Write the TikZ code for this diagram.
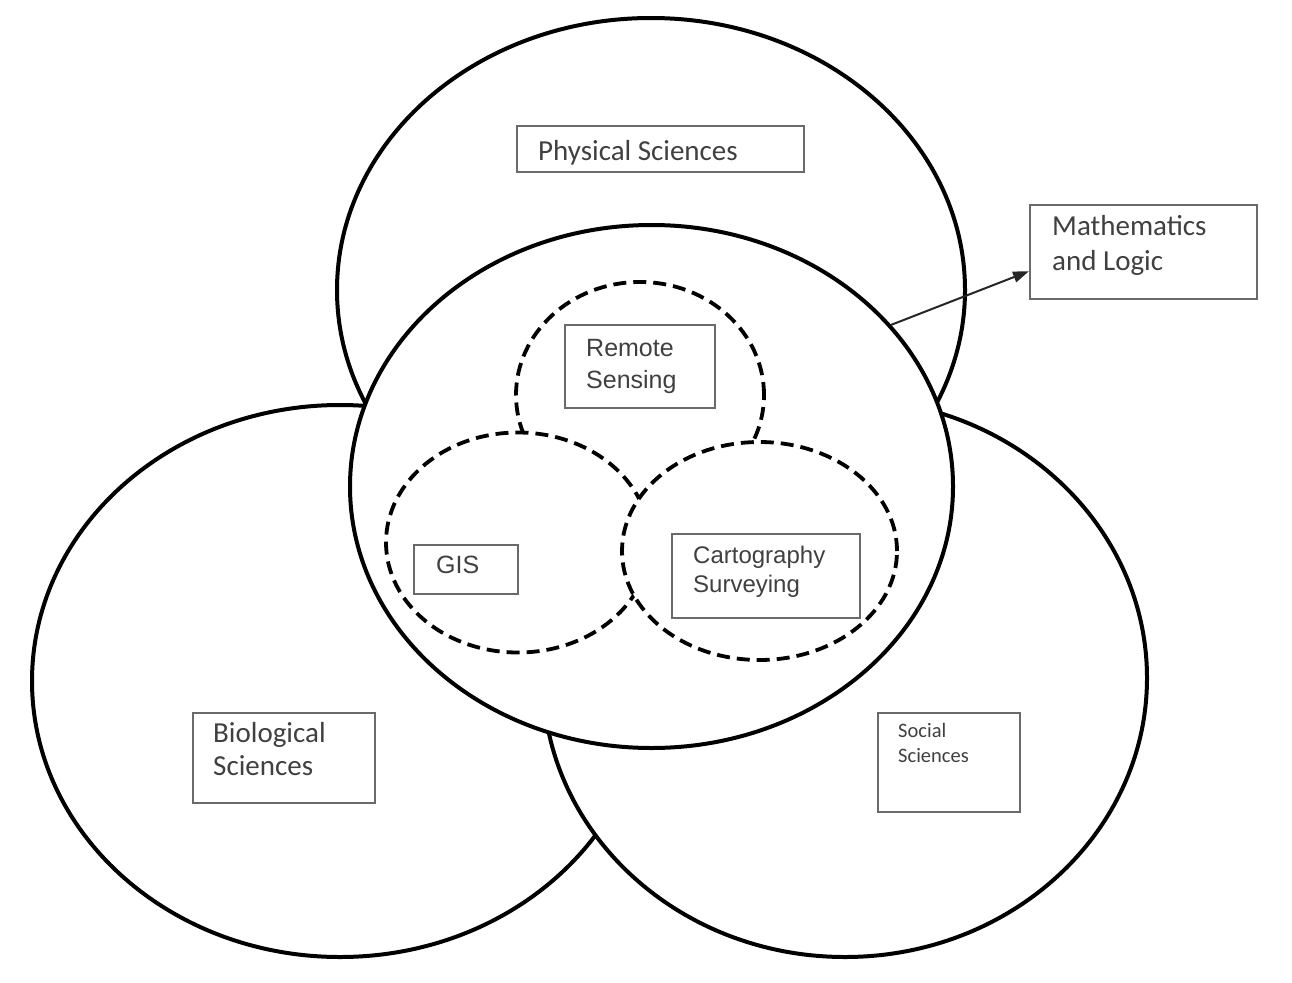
\documentclass[tikz,border=0pt]{standalone}
\usepackage{fontspec}
\setmainfont{Carlito}
\newfontfamily\arialf{Liberation Sans}
\usetikzlibrary{shapes.geometric,calc,arrows.meta}
\definecolor{txt}{HTML}{404040}
\definecolor{boxc}{HTML}{6A6A6A}
\begin{document}
\begin{tikzpicture}[x=1pt,y=-1pt,
  big/.style={ellipse,draw,fill=white,line width=4pt,inner sep=0pt},
  dashring/.style={ellipse,draw,fill=white,line width=3.8pt,dash pattern=on 13pt off 7pt,inner sep=0pt},
  lbox/.style={draw=boxc,line width=2pt,inner sep=0pt,anchor=north west},
  ltext/.style={anchor=base west,inner sep=0pt,text=txt},
  cal/.style={font=\fontsize{29}{34}\selectfont},
  ari/.style={font=\arialf\fontsize{25}{31}\selectfont},
]
\useasboundingbox (0,0) rectangle (1292,982);
\fill[white] (0,0) rectangle (1292,982);
% big ellipses
\node[big,minimum width=628pt,minimum height=544pt] (phys) at (651,290) {};
\node[big,minimum width=616pt,minimum height=552pt] (bio) at (340,681) {};
\node[big,minimum width=604pt,minimum height=558pt] (soc) at (845,678) {};
\node[big,minimum width=603pt,minimum height=523pt] (mid) at (651.5,486.5) {};
% dashed circles
\node[dashring,minimum width=248pt,minimum height=226pt] (rs) at (640,395) {};
\node[dashring,minimum width=264pt,minimum height=220pt] (gis) at (518,542.5) {};
\node[dashring,minimum width=275pt,minimum height=218pt] (carto) at (759.5,551) {};
% boxes
\node[lbox,minimum width=287pt,minimum height=46pt] (psbox) at (516,125) {};
\node[lbox,minimum width=227pt,minimum height=94pt] (mathbox) at (1029,204) {};
\node[lbox,minimum width=150pt,minimum height=83pt] (rsbox) at (564,324) {};
\node[lbox,minimum width=104pt,minimum height=49pt] (gisbox) at (413,544) {};
\node[lbox,minimum width=188pt,minimum height=84pt] (cartobox) at (671,533) {};
\node[lbox,minimum width=182pt,minimum height=90pt] (biobox) at (192,712) {};
\node[lbox,minimum width=142pt,minimum height=99pt] (socbox) at (877,712) {};
% texts
\node[ltext,cal] (pstext) at (538,160) {Physical Sciences};
\node[ltext,font=\fontsize{29}{35}\selectfont] (mathtext) at (1052,235)
  {\begin{tabular}[t]{@{}l@{}}Mathematics\\and Logic\end{tabular}};
\node[ltext,font=\arialf\fontsize{25}{32}\selectfont] (rstext) at (586,356)
  {\begin{tabular}[t]{@{}l@{}}Remote\\Sensing\end{tabular}};
\node[ltext,ari] (gistext) at (436,573) {GIS};
\node[ltext,font=\arialf\fontsize{24}{29.5}\selectfont] (cartotext) at (693,563)
  {\begin{tabular}[t]{@{}l@{}}Cartography\\Surveying\end{tabular}};
\node[ltext,font=\fontsize{29}{33}\selectfont] (biotext) at (213,742)
  {\begin{tabular}[t]{@{}l@{}}Biological\\Sciences\end{tabular}};
\node[ltext,font=\fontsize{20.5}{25}\selectfont] (soctext) at (898,737)
  {\begin{tabular}[t]{@{}l@{}}Social\\Sciences\end{tabular}};
% arrow
\draw[draw=black!85,line width=2pt,-{Triangle[length=16pt,width=11pt]}]
  (mid.34) -- ($(mathbox.north west)!0.7!(mathbox.south west)$);
\end{tikzpicture}
\end{document}
